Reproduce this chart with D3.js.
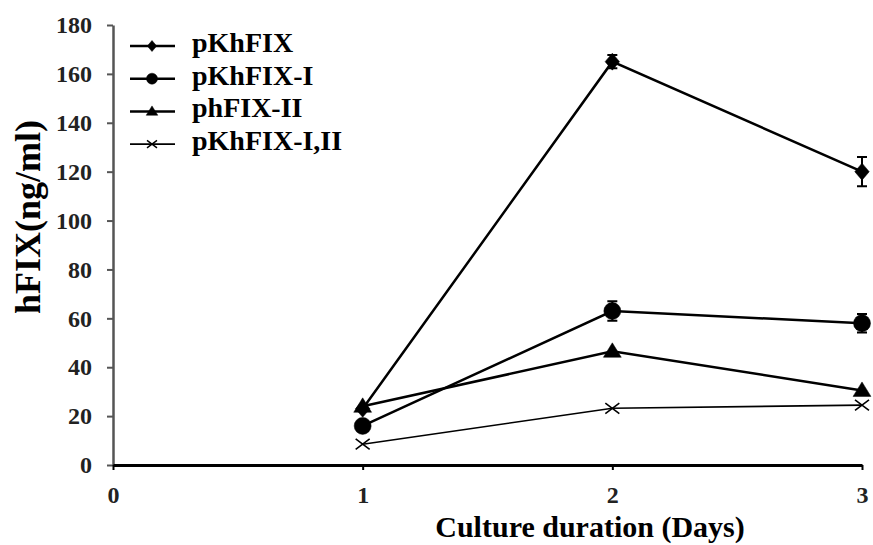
<!DOCTYPE html>
<meta charset="utf-8">
<html>
<head>
<script src="https://d3js.org/d3.v7.min.js"></script>
<style>
  body { margin: 0; background: #fff; }
  text { font-family: "Liberation Serif", "Times New Roman", serif; font-weight: bold; }
</style>
</head>
<body>
<div id="chart"></div>
<script>
// data
var days = [1, 2, 3];
var seriesNames = ["pKhFIX", "pKhFIX-I", "phFIX-II", "pKhFIX-I,II"];
var pKhFIX = [23, 165, 120];
var pKhFIX_err = [0, 2.7, 6];
var pKhFIX_I = [16, 63, 58];
var pKhFIX_I_err = [0, 4, 3.8];
var phFIX_II = [24, 46.5, 30.5];
var phFIX_II_err = [0, 0, 0];
var pKhFIX_I_II = [8.5, 23.2, 24.5];
var pKhFIX_I_II_err = [0, 0, 0];
var xTicks = [0, 1, 2, 3];
var yTicks = [0, 20, 40, 60, 80, 100, 120, 140, 160, 180];

var W = 873, H = 545;
var svg = d3.select("#chart").append("svg")
    .attr("width", W).attr("height", H);

var x = d3.scaleLinear().domain([0, 3]).range([113, 862]);
var y = d3.scaleLinear().domain([0, 180]).range([465, 25]);

var series = [
    { name: seriesNames[0], values: pKhFIX, err: pKhFIX_err, shape: "diamond", width: 2.5 },
    { name: seriesNames[1], values: pKhFIX_I, err: pKhFIX_I_err, shape: "circle", width: 2.5 },
    { name: seriesNames[2], values: phFIX_II, err: phFIX_II_err, shape: "triangle", width: 2.5 },
    { name: seriesNames[3], values: pKhFIX_I_II, err: pKhFIX_I_II_err, shape: "x", width: 1.6 }
];

// axes
var yAxis = svg.append("g")
    .attr("transform", "translate(" + x(0) + ",0)")
    .call(d3.axisLeft(y).tickValues(yTicks).tickFormat(d3.format("d"))
        .tickSize(6).tickSizeOuter(0).tickPadding(15));
yAxis.select(".domain").attr("stroke", "#555").attr("stroke-width", 2.5);
yAxis.selectAll(".tick line").attr("stroke", "#555").attr("stroke-width", 2);
yAxis.selectAll("text").attr("font-size", 24).attr("fill", "#222")
    .style("font-family", "Liberation Serif").style("font-weight", "bold");

var xAxis = svg.append("g")
    .attr("transform", "translate(0," + y(0) + ")")
    .call(d3.axisBottom(x).tickValues(xTicks).tickFormat(d3.format("d"))
        .tickSize(5).tickSizeOuter(0).tickPadding(16));
xAxis.select(".domain").attr("stroke", "#000").attr("stroke-width", 3);
xAxis.selectAll(".tick line").attr("stroke", "#000").attr("stroke-width", 2);
xAxis.selectAll("text").attr("font-size", 24).attr("fill", "#222")
    .style("font-family", "Liberation Serif").style("font-weight", "bold");

// axis titles
svg.append("text")
    .attr("transform", "translate(40," + ((y(0) + y(180)) / 2 - 28) + ") rotate(-90)")
    .attr("text-anchor", "middle")
    .attr("font-size", 36)
    .text("hFIX(ng/ml)");

svg.append("text")
    .attr("x", 590).attr("y", 537)
    .attr("text-anchor", "middle")
    .attr("font-size", 30)
    .text("Culture duration (Days)");

function markerPath(shape, s) {
    if (shape === "diamond") return "M0," + (-s) + "L" + (s * 0.85) + ",0L0," + s + "L" + (-s * 0.85) + ",0Z";
    if (shape === "circle") return d3.symbol(d3.symbolCircle, Math.PI * s * s)();
    if (shape === "triangle") return "M0," + (-s) + "L" + (s * 1.05) + "," + (s * 0.7) + "L" + (-s * 1.05) + "," + (s * 0.7) + "Z";
    return "M" + (-s) + "," + (-s * 0.75) + "L" + s + "," + (s * 0.75) + "M" + (-s) + "," + (s * 0.75) + "L" + s + "," + (-s * 0.75);
}

var line = d3.line()
    .x(function (d, i) { return x(days[i]); })
    .y(function (d) { return y(d); });

// lines
svg.selectAll(".series-line")
    .data(series)
    .enter()
    .append("path")
    .attr("class", "series-line")
    .attr("d", function (d) { return line(d.values); })
    .attr("fill", "none")
    .attr("stroke", "#000")
    .attr("stroke-width", function (d) { return d.width; });

// error bars
svg.selectAll(".ebar-group")
    .data(series)
    .enter()
    .append("g")
    .selectAll("path")
    .data(function (d) {
        return d.values.map(function (v, i) { return { day: days[i], v: v, e: d.err[i] }; })
            .filter(function (p) { return p.e > 0; });
    })
    .enter()
    .append("path")
    .attr("d", function (p) {
        var cx = x(p.day), top = y(p.v + p.e), bot = y(p.v - p.e);
        return "M" + cx + "," + top + "V" + bot +
            "M" + (cx - 5) + "," + top + "H" + (cx + 5) +
            "M" + (cx - 5) + "," + bot + "H" + (cx + 5);
    })
    .attr("stroke", "#000")
    .attr("stroke-width", 2)
    .attr("fill", "none");

// markers
svg.selectAll(".marker-group")
    .data(series)
    .enter()
    .append("g")
    .each(function (d) {
        d3.select(this).selectAll("path")
            .data(d.values)
            .enter()
            .append("path")
            .attr("transform", function (v, i) { return "translate(" + x(days[i]) + "," + y(v) + ")"; })
            .attr("d", markerPath(d.shape, d.shape === "x" ? 7 : 8.5))
            .attr("fill", d.shape === "x" ? "none" : "#000")
            .attr("stroke", "#000")
            .attr("stroke-width", d.shape === "x" ? 1.6 : 0.5);
    });

// legend
var legendTop = 46, legendStep = 32.7;
var legend = svg.selectAll(".legend")
    .data(series)
    .enter()
    .append("g")
    .attr("transform", function (d, i) { return "translate(0," + (legendTop + i * legendStep) + ")"; });

legend.append("line")
    .attr("x1", 130).attr("x2", 175)
    .attr("stroke", "#000")
    .attr("stroke-width", function (d) { return d.width; });

legend.append("path")
    .attr("transform", "translate(152,0)")
    .attr("d", function (d) { return markerPath(d.shape, d.shape === "x" ? 5 : 5.5); })
    .attr("fill", function (d) { return d.shape === "x" ? "none" : "#000"; })
    .attr("stroke", "#000")
    .attr("stroke-width", function (d) { return d.shape === "x" ? 1.4 : 0.5; });

legend.append("text")
    .attr("x", 192).attr("y", 6)
    .attr("font-size", 28)
    .text(function (d) { return d.name; });
</script>
</body>
</html>
